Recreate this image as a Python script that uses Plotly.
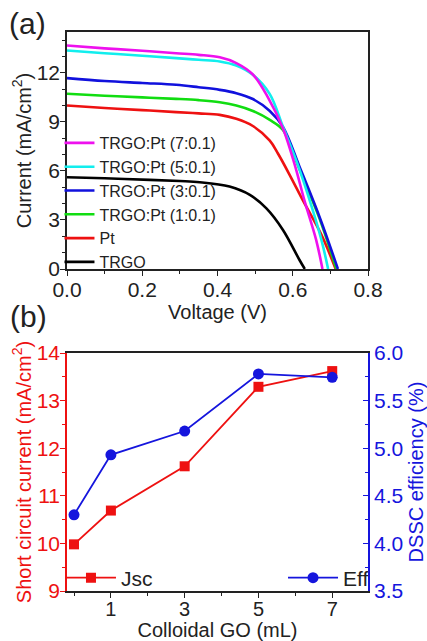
import plotly.graph_objects as go

# ---------------- Panel (a): J-V curves ----------------
names_a = ["TRGO", "Pt", "TRGO:Pt (1:0.1)", "TRGO:Pt (3:0.1)", "TRGO:Pt (5:0.1)", "TRGO:Pt (7:0.1)"]
colors_a = ["#000000", "#ee1111", "#11dd11", "#1111dd", "#11eeee", "#ee11ee"]

V_trgo = [0, 0.1, 0.22, 0.3, 0.353, 0.432, 0.486, 0.53, 0.574, 0.618, 0.632]
J_trgo = [5.61, 5.55, 5.45, 5.38, 5.31, 5.04, 4.53, 3.71, 2.39, 0.55, 0]

V_pt = [0, 0.1, 0.2, 0.29, 0.35, 0.406, 0.45, 0.494, 0.539, 0.561, 0.592, 0.627, 0.676, 0.714]
J_pt = [10.0, 9.85, 9.72, 9.6, 9.52, 9.43, 9.19, 8.75, 7.85, 7.05, 5.75, 4.2, 2.1, 0]

V_1 = [0, 0.1, 0.2, 0.29, 0.35, 0.406, 0.45, 0.494, 0.539, 0.574, 0.618, 0.671, 0.716]
J_1 = [10.72, 10.6, 10.5, 10.41, 10.33, 10.2, 10.0, 9.67, 9.12, 8.5, 6.1, 3.1, 0]

V_3 = [0, 0.1, 0.2, 0.29, 0.35, 0.406, 0.45, 0.494, 0.539, 0.574, 0.618, 0.671, 0.72]
J_3 = [11.68, 11.5, 11.38, 11.27, 11.12, 10.96, 10.76, 10.4, 9.67, 8.7, 6.26, 3.2, 0]

V_5 = [0, 0.1, 0.2, 0.29, 0.35, 0.406, 0.45, 0.494, 0.539, 0.574, 0.61, 0.645, 0.676, 0.694]
J_5 = [13.37, 13.2, 13.05, 12.9, 12.8, 12.7, 12.45, 11.88, 10.7, 8.7, 6.6, 4.2, 1.8, 0]

V_7 = [0, 0.1, 0.2, 0.29, 0.35, 0.406, 0.45, 0.494, 0.534, 0.574, 0.605, 0.631, 0.662, 0.679]
J_7 = [13.67, 13.5, 13.35, 13.2, 13.1, 12.95, 12.6, 11.9, 10.5, 8.6, 6.4, 4.2, 1.8, 0]

V_all = [V_trgo, V_pt, V_1, V_3, V_5, V_7]
J_all = [J_trgo, J_pt, J_1, J_3, J_5, J_7]

# ---------------- Panel (b): Jsc and efficiency ----------------
go_ml = [0, 1, 3, 5, 7]
jsc = [9.98, 10.69, 11.62, 13.29, 13.62]
eff = [4.30, 4.93, 5.18, 5.78, 5.745]

FONT = "Liberation Sans, Arial, sans-serif"
RED = "#ee1111"
BLUE = "#1515dd"
INK = "#222"

fig = go.Figure()

for v, j, n, c in zip(V_all, J_all, names_a, colors_a):
    fig.add_trace(go.Scatter(x=v, y=j, name=n, mode="lines",
                             line=dict(color=c, width=2.6, shape="spline", smoothing=1.0),
                             xaxis="x", yaxis="y", legend="legend"))

fig.add_trace(go.Scatter(x=go_ml, y=jsc, name="Jsc", mode="lines+markers",
                         line=dict(color=RED, width=1.8),
                         marker=dict(symbol="square", size=10, color=RED),
                         xaxis="x2", yaxis="y2", legend="legend2"))
fig.add_trace(go.Scatter(x=go_ml, y=eff, name="Eff", mode="lines+markers",
                         line=dict(color=BLUE, width=1.8),
                         marker=dict(symbol="circle", size=11, color=BLUE),
                         xaxis="x2", yaxis="y3", legend="legend3"))

TICK = 21
TITLE = 20
tickfont = dict(family=FONT, size=TICK, color=INK)
titlefont = dict(family=FONT, size=TITLE, color=INK)

plot_top, plot_bot = 32, 591
ph = plot_bot - plot_top
def dom(top_px, bot_px):
    return [(plot_bot - bot_px) / ph, (plot_bot - top_px) / ph]

fig.update_layout(
    width=427, height=641,
    margin=dict(l=67, r=59, t=32, b=50, autoexpand=False),
    paper_bgcolor="white", plot_bgcolor="white",
    font=dict(family=FONT, color=INK),
    xaxis=dict(domain=[0, 1], anchor="y", range=[0, 0.8], dtick=0.2, tickformat=".1f",
               automargin=True, ticklabelstandoff=-4,
               showline=True, mirror=True, linecolor=INK, linewidth=1.6,
               ticks="outside", ticklen=5, tickwidth=1.3, tickcolor=INK,
               minor=dict(dtick=0.1, ticks="outside", ticklen=3, tickcolor=INK),
               showgrid=False, zeroline=False, tickfont=tickfont,
               title=dict(text="Voltage (V)", font=titlefont, standoff=0)),
    yaxis=dict(domain=dom(32, 269), anchor="x", range=[0, 14.5], dtick=3,
               automargin=True, ticklabelstandoff=-4,
               showline=True, mirror=True, linecolor=INK, linewidth=1.6,
               ticks="outside", ticklen=5, tickwidth=1.3, tickcolor=INK,
               minor=dict(dtick=1, ticks="outside", ticklen=3, tickcolor=INK),
               showgrid=False, zeroline=False, tickfont=tickfont,
               title=dict(text="Current (mA/cm<sup>2</sup>)", font=titlefont, standoff=0)),
    xaxis2=dict(domain=[0, 1], anchor="y2", range=[-0.19, 7.97],
                automargin=True, ticklabelstandoff=-6,
                tickmode="array", tickvals=[1, 3, 5, 7],
                showline=True, mirror=True, linecolor=INK, linewidth=1.6,
                ticks="outside", ticklen=5, tickwidth=1.3, tickcolor=INK,
                minor=dict(tickmode="array", tickvals=[0, 2, 4, 6, 8], ticks="outside", ticklen=3, tickcolor=INK),
                showgrid=False, zeroline=False, tickfont=dict(family=FONT, size=20, color=INK),
                title=dict(text="Colloidal GO (mL)", font=titlefont, standoff=3)),
    yaxis2=dict(domain=dom(353, 591), anchor="x2", range=[9, 14], dtick=1,
                automargin=True, ticklabelstandoff=-4,
                showline=True, linecolor=RED, linewidth=1.6,
                ticks="outside", ticklen=5, tickwidth=1.3, tickcolor=RED,
                minor=dict(dtick=0.5, ticks="outside", ticklen=3, tickcolor=RED),
                showgrid=False, zeroline=False,
                tickfont=dict(family=FONT, size=TICK, color=RED),
                title=dict(text="Short circuit current (mA/cm<sup>2</sup>)",
                           font=dict(family=FONT, size=TITLE, color=RED), standoff=0)),
    yaxis3=dict(overlaying="y2", side="right", anchor="x2", range=[3.5, 6.0], dtick=0.5,
                automargin=True,
                tickformat=".1f",
                showline=True, linecolor=BLUE, linewidth=1.6,
                ticks="inside", ticklen=5, tickwidth=1.3, tickcolor=BLUE,
                minor=dict(dtick=0.25, ticks="inside", ticklen=3, tickcolor=BLUE),
                showgrid=False, zeroline=False,
                tickfont=dict(family=FONT, size=TICK, color=BLUE),
                title=dict(text="DSSC efficiency (%)",
                           font=dict(family=FONT, size=TITLE, color=BLUE), standoff=8)),
    legend=dict(x=-0.025, xanchor="left", y=(plot_bot - 126) / ph, yanchor="top",
                traceorder="reversed", bgcolor="rgba(0,0,0,0)",
                font=dict(family=FONT, size=16, color=INK), itemwidth=30,
                tracegroupgap=0),
    legend2=dict(x=-0.02, xanchor="left", y=(plot_bot - 578) / ph, yanchor="middle",
                 itemwidth=50,
                 bgcolor="rgba(0,0,0,0)", font=dict(family=FONT, size=21, color=INK)),
    legend3=dict(x=1.02, xanchor="right", y=(plot_bot - 578) / ph, yanchor="middle",
                 itemwidth=50,
                 bgcolor="rgba(0,0,0,0)", font=dict(family=FONT, size=21, color=INK)),
    showlegend=True,
    annotations=[
        dict(text="(a)", xref="paper", yref="paper", x=-0.2, y=(plot_bot - 24) / ph,
             xanchor="left", yanchor="middle", showarrow=False,
             font=dict(family=FONT, size=30, color=INK)),
        dict(text="(b)", xref="paper", yref="paper", x=-0.195, y=(plot_bot - 316) / ph,
             xanchor="left", yanchor="middle", showarrow=False,
             font=dict(family=FONT, size=30, color=INK)),
    ],
)

fig.write_html("out.html")
